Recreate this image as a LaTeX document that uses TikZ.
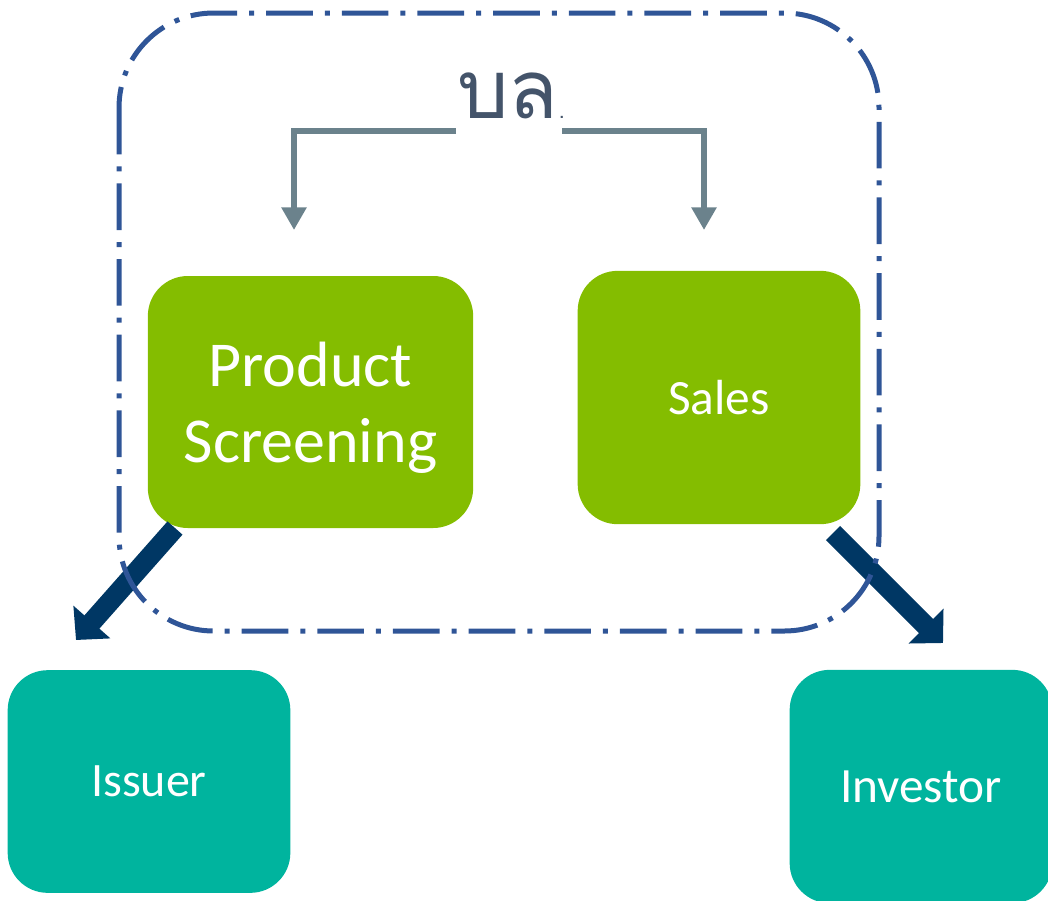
\documentclass[tikz,border=0pt]{standalone}
\usepackage{fontspec}
\setmainfont{Carlito}
\newfontfamily\thaifont[Script=Thai]{Loma}
\usetikzlibrary{arrows.meta}
\definecolor{color1}{RGB}{132,189,0}
\definecolor{color2}{RGB}{0,180,158}
\definecolor{color3}{RGB}{0,55,100}
\definecolor{color4}{RGB}{107,130,140}
\definecolor{color5}{RGB}{47,85,151}
\definecolor{color6}{RGB}{68,84,106}
\tikzset{
    box/.style={rounded corners=30pt, text=white, align=center, inner sep=0pt},
    thinarrow/.style={color4, line width=5pt, -{Triangle[length=17pt,width=18pt]}},
    thickarrow/.style={color3, line width=15pt, -{Triangle[length=18pt,width=36pt]}}
}

\begin{document}
\begin{tikzpicture}[x=0.75pt,y=-0.75pt]
                \useasboundingbox (0,0) rectangle (1048,900);
                \clip (0,0) rectangle (1048,900);

                \node[box, fill=color1, minimum width=244pt, minimum height=189pt, font=\fontsize{48}{57}\selectfont] (ps) at (310.5,402) {\raisebox{-4.5pt}[\height][\depth]{Product}\\\raisebox{-4.5pt}[\height][\depth]{Screening}};
                \node[box, fill=color1, minimum width=212pt, minimum height=190pt, font=\fontsize{37}{44}\selectfont] (sales) at (719,397.5) {Sales};
                \node[box, fill=color2, minimum width=212pt, minimum height=167pt, font=\fontsize{36}{43}\selectfont] (issuer) at (149,781.5) {Issuer};
                \node[box, fill=color2, minimum width=197pt, minimum height=175pt, font=\fontsize{37}{44}\selectfont] (investor) at (921,786.5) {Investor};
                \node[anchor=base, inner sep=0pt, text=color6, font=\thaifont\fontsize{61}{66}\selectfont] (bl) at (511,118) {บล{\fontsize{16}{16}\selectfont.}};

                % ends of the connectors
                \coordinate (blL) at (456,131); \coordinate (blR) at (562,131);
                \coordinate (psin) at (294,230); \coordinate (salesin) at (704,230);
                \coordinate (psout) at (175,528); \coordinate (issuerin) at (76,640);
                \coordinate (salesout) at (833,533); \coordinate (investorin) at (943,643);

                \draw[thinarrow] (blL) -| (psin);
                \draw[thinarrow] (blR) -| (salesin);
                \draw[thickarrow] (psout) -- (issuerin);
                \draw[thickarrow] (salesout) -- (investorin);

                \draw[color5, line width=3.75pt, rounded corners=71pt, dash pattern=on 35pt off 9pt on 3.75pt off 9pt] (119,13) rectangle (879,631);
            \end{tikzpicture}
\end{document}
